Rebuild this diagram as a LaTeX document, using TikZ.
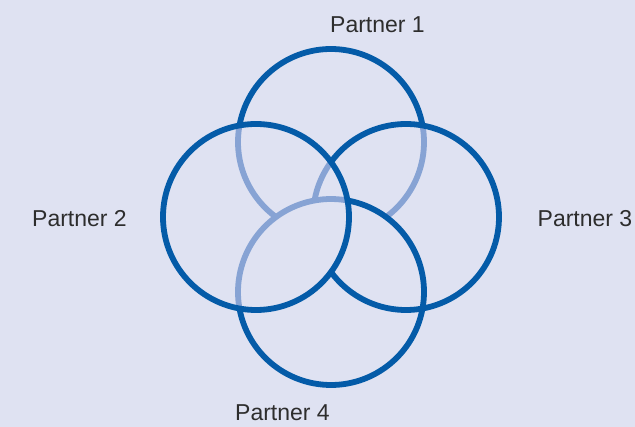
\documentclass[tikz,border=0pt]{standalone}
\usepackage{fontspec}
\setmainfont{Liberation Sans}
\usepackage{tikz}
\usetikzlibrary{calc}
\definecolor{bgpanel}{RGB}{223,226,242}
\definecolor{ringblue}{RGB}{4,91,168}
\definecolor{ringfade}{RGB}{135,163,212}
\definecolor{labelgray}{RGB}{45,45,45}

\begin{document}
\begin{tikzpicture}[x=1pt,y=-1pt,
  ring/.style={ringblue,line width=5.8pt},
  ringback/.style={ringfade,line width=5.8pt},
  partner/.style={text=labelgray,font=\fontsize{23}{27}\selectfont,anchor=base,inner sep=0pt}]
% ---------------- panel ----------------
\fill[bgpanel] (0,0) rectangle (635,427);
\useasboundingbox (0,0) rectangle (635,427);
% ring centres
\coordinate (c1) at (331,142);
\coordinate (c2) at (256,217);
\coordinate (c3) at (406,217);
\coordinate (c4) at (331,292);
% ---------------- arcs seen through another ring ----------------
\draw[ringback] (c1) ++(-10.22:93) arc[start angle=-10.22,end angle=53.75,radius=93];
\draw[ringback] (c1) ++(126.25:93) arc[start angle=126.25,end angle=190.22,radius=93];
\draw[ringback] (c3) ++(190.22:93) arc[start angle=190.22,end angle=216.25,radius=93];
\draw[ringback] (c4) ++(169.78:93) arc[start angle=169.78,end angle=280.22,radius=93];
% ---------------- front arcs ----------------
\draw[ring] (c1) ++(190.22:93) arc[start angle=190.22,end angle=349.78,radius=93];
\draw[ring] (c3) ++(-143.75:93) arc[start angle=-143.75,end angle=143.75,radius=93];
\draw[ring] (c4) ++(-79.78:93) arc[start angle=-79.78,end angle=169.78,radius=93];
\draw[ring] (c2) circle[radius=93];
% ---------------- labels ----------------
\node[partner] (p1) at (377.5,33) {Partner 1};
\node[partner] (p2) at (79.5,227) {Partner 2};
\node[partner] (p3) at (585,227) {Partner 3};
\node[partner] (p4) at (282.5,421) {Partner 4};
\end{tikzpicture}
\end{document}
